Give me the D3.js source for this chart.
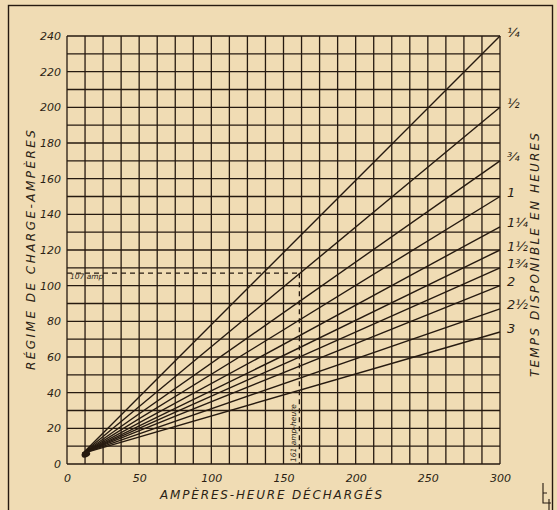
<!DOCTYPE html>
<html>
<head>
<meta charset="utf-8">
<script src="https://cdn.jsdelivr.net/npm/d3@7"></script>
<style>
  html, body { margin: 0; padding: 0; background: #f0dcb4; }
  svg { display: block; }
  text { font-family: "DejaVu Sans", sans-serif; font-style: italic; fill: #2b1f14; }
</style>
</head>
<body>
<svg id="chart" width="557" height="510"></svg>
<script>
// ---- data ----
const lineLabels = ["¼", "½", "¾", "1", "1¼", "1½", "1¾", "2", "2½", "3"];
const lineEndAmps = [240, 200, 170, 150, 133, 120, 110, 100, 87, 74]; // A at 300 Ah
const lineStart = [11, 6];               // common start (Ah, A)
const lineEndAh = 300;
const xTicks = [0, 50, 100, 150, 200, 250, 300];
const yTicks = [0, 20, 40, 60, 80, 100, 120, 140, 160, 180, 200, 220, 240];
const xGridStep = 12.5;
const yGridStep = 10;
const exampleAh = 161;
const exampleAmp = 107;
const exampleAmpLabel = "107 amp";
const exampleAhLabel = "161 amp-heure";
const xTitle = "AMPÈRES-HEURE DÉCHARGÉS";
const yTitle = "RÉGIME DE CHARGE-AMPÈRES";
const rightTitle = "TEMPS DISPONIBLE EN HEURES";

// ---- layout ----
const ink = "#261a10";
const svg = d3.select("#chart");
const x = d3.scaleLinear().domain([0, 300]).range([67, 500]);
const y = d3.scaleLinear().domain([0, 240]).range([464, 36]);

// outer frame
svg.append("rect").attr("x", 8.5).attr("y", 5.5).attr("width", 544).attr("height", 520)
  .attr("fill", "none").attr("stroke", ink).attr("stroke-width", 1.4);

// grid
const g = svg.append("g");
const xGrid = d3.range(0, 300 + 0.01, xGridStep);
const yGrid = d3.range(0, 240 + 0.01, yGridStep);
g.selectAll("line.vx").data(xGrid).join("line").attr("class", "vx")
  .attr("x1", d => x(d)).attr("x2", d => x(d)).attr("y1", y(0)).attr("y2", y(240))
  .attr("stroke", ink).attr("stroke-width", 1.3);
g.selectAll("line.hy").data(yGrid).join("line").attr("class", "hy")
  .attr("y1", d => y(d)).attr("y2", d => y(d)).attr("x1", x(0)).attr("x2", x(300))
  .attr("stroke", ink).attr("stroke-width", 1.3);

// axes tick labels via d3 axes (no domain/ticks drawn)
const xAxis = svg.append("g").attr("transform", `translate(0,${y(0)})`)
  .call(d3.axisBottom(x).tickValues(xTicks).tickSize(0).tickPadding(10).tickFormat(d3.format("d")));
const yAxis = svg.append("g").attr("transform", `translate(${x(0)},0)`)
  .call(d3.axisLeft(y).tickValues(yTicks).tickSize(0).tickPadding(6).tickFormat(d3.format("d")));
[xAxis, yAxis].forEach(a => {
  a.select(".domain").remove();
  a.selectAll("text").attr("font-family", "DejaVu Sans").attr("font-style", "italic")
    .attr("font-size", 11).attr("fill", ink);
});

// the lines
const lines = svg.append("g");
lineLabels.forEach((lab, i) => {
  lines.append("line")
    .attr("x1", x(lineStart[0])).attr("y1", y(lineStart[1]))
    .attr("x2", x(lineEndAh)).attr("y2", y(lineEndAmps[i]))
    .attr("stroke", ink).attr("stroke-width", 1.4);
  svg.append("text").attr("x", x(lineEndAh) + 7).attr("y", y(lineEndAmps[i]) - 3)
    .attr("dominant-baseline", "middle").attr("font-size", 13).text(lab);
});
// blob at convergence
svg.append("ellipse").attr("cx", x(lineStart[0]) + 3).attr("cy", y(lineStart[1]) + 1)
  .attr("rx", 4.5).attr("ry", 3).attr("fill", ink)
  .attr("transform", `rotate(-25 ${x(lineStart[0]) + 3} ${y(lineStart[1]) + 1})`);

// example dashed lines
svg.append("line").attr("x1", x(0)).attr("x2", x(exampleAh))
  .attr("y1", y(exampleAmp)).attr("y2", y(exampleAmp))
  .attr("stroke", ink).attr("stroke-width", 1.3).attr("stroke-dasharray", "5,4");
svg.append("line").attr("x1", x(exampleAh)).attr("x2", x(exampleAh))
  .attr("y1", y(exampleAmp)).attr("y2", y(0))
  .attr("stroke", ink).attr("stroke-width", 1.3).attr("stroke-dasharray", "5,4");
svg.append("text").attr("x", x(0) + 3).attr("y", y(exampleAmp) + 6)
  .attr("font-size", 7.5).text(exampleAmpLabel);
svg.append("text")
  .attr("transform", `translate(${x(exampleAh) - 3},${y(0) - 2}) rotate(-90)`)
  .attr("font-size", 7.5).text(exampleAhLabel);

// titles
svg.append("text").attr("x", 160).attr("y", 499).attr("font-size", 12)
  .attr("textLength", 222).attr("lengthAdjust", "spacing").text(xTitle);
svg.append("text").attr("transform", "translate(35,370) rotate(-90)").attr("font-size", 12)
  .attr("textLength", 240).attr("lengthAdjust", "spacing").text(yTitle);
svg.append("text").attr("transform", "translate(539,377) rotate(-90)").attr("font-size", 12)
  .attr("textLength", 244).attr("lengthAdjust", "spacing").text(rightTitle);

// small printer's mark bottom right
svg.append("path").attr("d", "M543,483 V503 H551 M543,493 H547 M549,499 V510")
  .attr("fill", "none").attr("stroke", ink).attr("stroke-width", 1.1);
</script>
</body>
</html>
